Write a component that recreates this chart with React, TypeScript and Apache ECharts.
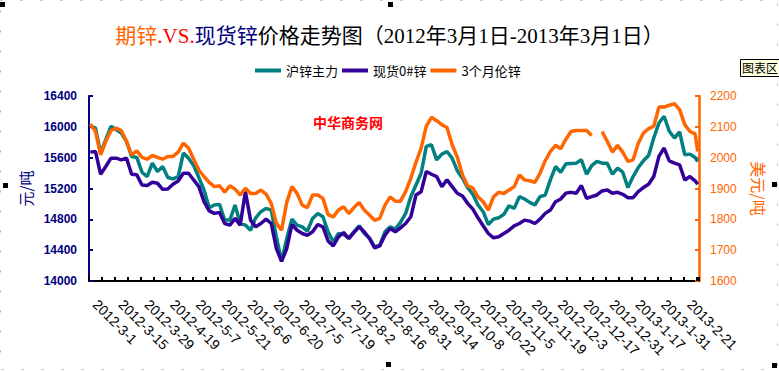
import React, { useEffect, useRef } from 'react';
import * as echarts from 'echarts';

// ---- data ----
const dateLabels = [
  '2012-3-1', '2012-3-15', '2012-3-29', '2012-4-19', '2012-5-7', '2012-5-21',
  '2012-6-6', '2012-6-20', '2012-7-5', '2012-7-19', '2012-8-2', '2012-8-16',
  '2012-8-31', '2012-9-14', '2012-10-8', '2012-10-22', '2012-11-5', '2012-11-19',
  '2012-12-3', '2012-12-17', '2012-12-31', '2013-1-17', '2013-1-31', '2013-2-21',
];
const tradingDayCount = 236; // labels every 10 trading days
const sampleDays = Array.from({ length: 118 }, (_, k) => k * 2).concat([235]);

const seriesNames = ['沪锌主力', '现货0#锌', '3个月伦锌'];

// 沪锌主力 (元/吨)
const shfeMain = [
  16007, 15985, 15659, 15833, 16007, 15964, 15920, 15811, 15616, 15603,
  15411, 15355, 15529, 15420, 15485, 15342, 15325, 15355, 15659, 15594,
  15498, 15342, 15181, 14950, 14986, 14994, 14790, 14790, 14986, 14746,
  14725, 14659, 14820, 14899, 14942, 14920, 14572, 14255, 14551, 14803,
  14725, 14703, 14646, 14812, 14877, 14833, 14638, 14507, 14616, 14603,
  14560, 14638, 14716, 14616, 14560, 14442, 14464, 14638, 14703, 14673,
  14760, 14877, 15094, 15246, 15398, 15746, 15768, 15572, 15646, 15680,
  15594, 15429, 15333, 15212, 15125, 14986, 14899, 14733, 14803, 14820,
  14864, 14977, 14942, 15094, 15064, 15020, 14986, 15094, 15116, 15312,
  15485, 15411, 15520, 15525, 15529, 15572, 15385, 15498, 15551, 15529,
  15529, 15385, 15464, 15411, 15212, 15355, 15472, 15559, 15629, 15855,
  16050, 16137, 15942, 15855, 15933, 15638, 15646, 15603, 15551,
];

// 现货0#锌 (元/吨)
const spotZinc = [
  15672, 15681, 15385, 15485, 15594, 15594, 15572, 15594, 15385, 15377,
  15246, 15238, 15281, 15268, 15190, 15194, 15255, 15298, 15398, 15398,
  15311, 15225, 15029, 14910, 14877, 14890, 14746, 14725, 14812, 14725,
  15159, 14790, 14703, 14746, 14803, 14746, 14420, 14255, 14420, 14733,
  14659, 14616, 14594, 14638, 14733, 14703, 14520, 14455, 14573, 14629,
  14551, 14629, 14703, 14638, 14551, 14429, 14455, 14594, 14681, 14638,
  14690, 14746, 14833, 15116, 15159, 15420, 15385, 15355, 15225, 15311,
  15225, 15138, 15103, 15007, 14933, 14820, 14716, 14616, 14560, 14573,
  14616, 14659, 14716, 14746, 14790, 14777, 14746, 14803, 14877, 14920,
  15029, 15064, 15140, 15150, 15138, 15238, 15073, 15094, 15116, 15168,
  15181, 15138, 15151, 15125, 15081, 15081, 15159, 15212, 15255, 15355,
  15616, 15725, 15559, 15529, 15507, 15311, 15355, 15298, 15255,
];

// 3个月伦锌 (美元/吨)
const lme3m: (number | null)[] = [
  2109, 2085, 2009, 2053, 2088, 2096, 2088, 2053, 2009, 2022,
  2001, 1995, 2007, 2001, 1995, 2004, 2004, 2018, 2047, 2031,
  1995, 1960, 1939, 1920, 1906, 1909, 1888, 1909, 1898, 1879,
  1901, 1884, 1884, 1895, 1882, 1852, 1787, 1765, 1855, 1906,
  1884, 1846, 1838, 1879, 1879, 1868, 1815, 1808, 1830, 1841,
  1819, 1838, 1855, 1830, 1814, 1797, 1803, 1846, 1873, 1859,
  1859, 1890, 1933, 1985, 2031, 2102, 2131, 2120, 2107, 2098,
  2042, 2001, 1944, 1909, 1901, 1873, 1857, 1830, 1873, 1888,
  1884, 1895, 1906, 1944, 1928, 1925, 1920, 1950, 1990, 2020,
  2040, 2029, 2060, 2085, 2088, 2088, 2088, 2072, null, 2085,
  2053, 2018, 2040, 2018, 1988, 1993, 2047, 2080, 2094, 2102,
  2164, 2164, 2170, 2175, 2156, 2107, 2085, 2077, 2020,
];

const leftTicks = { min: 14000, max: 16400, interval: 400 };
const rightTicks = { min: 1600, max: 2200, interval: 100 };

const COLORS = { shfe: '#008080', spot: '#330099', lme: '#FF6600', navy: '#000080' };
const FONT_CJK = '"Noto Sans CJK SC", sans-serif';
const FONT_TITLE = '"Liberation Serif", "Noto Sans CJK SC", serif';
const FONT_AXIS = '"Liberation Sans", Arial, sans-serif';

const categories = Array.from({ length: tradingDayCount }, (_, i) =>
  i % 10 === 0 && dateLabels[i / 10] ? dateLabels[i / 10] : ''
);

const pair = (vals: (number | null)[]) =>
  sampleDays.map((d, k) => [d, vals[k] === null ? '-' : vals[k]]);

const plain = (v: number) => String(v);

export default function App() {
  const ref = useRef<HTMLDivElement>(null);
  useEffect(() => {
    if (!ref.current) return;
    const chart = echarts.init(ref.current, undefined, { renderer: 'svg' });
    const handles = [
      [0, 2], [388, 2], [3, 183], [772, 182], [386, 362], [772, 363],
    ];
    const titleStyle = (color: string) => ({
      color, fontSize: 21, fontWeight: 'normal', fontFamily: FONT_TITLE,
    });
    chart.setOption({
      animation: false,
      backgroundColor: '#ffffff',
      title: {
        left: 'center',
        top: 20,
        text: '{o|期锌}{r|.VS.}{b|现货锌}{k|价格走势图（2012年3月1日-2013年3月1日）}',
        textStyle: {
          fontWeight: 'normal',
          rich: {
            o: titleStyle('#FF6600'),
            r: titleStyle('#FF0000'),
            b: titleStyle('#000080'),
            k: titleStyle('#000000'),
          },
        },
      },
      legend: {
        data: seriesNames,
        left: 250,
        top: 59,
        icon: 'rect',
        itemWidth: 26,
        itemHeight: 4,
        itemGap: 4,
        textStyle: { fontSize: 13, color: '#000', fontFamily: FONT_CJK },
      },
      grid: { left: 89, right: 80, top: 96, bottom: 90, containLabel: false },
      xAxis: {
        type: 'category',
        data: categories,
        boundaryGap: true,
        axisLine: { show: true, lineStyle: { color: '#000', width: 2 } },
        axisTick: { show: true, inside: true, length: 4, interval: 4, lineStyle: { color: '#000', width: 2 } },
        axisLabel: {
          interval: 9,
          rotate: -45,
          margin: 26,
          verticalAlign: 'bottom',
          fontSize: 14,
          color: '#000',
          fontFamily: FONT_AXIS,
        },
        splitLine: { show: false },
      },
      yAxis: [
        {
          type: 'value',
          ...leftTicks,
          name: '元/吨',
          nameLocation: 'middle',
          nameRotate: 90,
          nameGap: 55,
          nameTextStyle: { color: COLORS.navy, fontSize: 15, fontFamily: FONT_CJK },
          axisLine: { show: true, lineStyle: { color: COLORS.navy, width: 2 } },
          axisTick: { show: true, inside: true, length: 4, lineStyle: { color: COLORS.navy, width: 2 } },
          axisLabel: { formatter: plain, color: COLORS.navy, fontWeight: 'bold', fontSize: 12, margin: 12, fontFamily: FONT_AXIS },
          splitLine: { show: false },
        },
        {
          type: 'value',
          ...rightTicks,
          name: '美元/吨',
          nameLocation: 'middle',
          nameRotate: -90,
          nameGap: 52,
          nameTextStyle: { color: COLORS.lme, fontSize: 16, fontFamily: FONT_CJK },
          axisLine: { show: true, lineStyle: { color: COLORS.lme, width: 2.5 } },
          axisTick: { show: true, inside: true, length: 4, lineStyle: { color: COLORS.lme, width: 2 } },
          axisLabel: { formatter: plain, color: COLORS.lme, fontSize: 12, margin: 11, fontFamily: FONT_AXIS },
          splitLine: { show: false },
        },
      ],
      series: [
        {
          name: seriesNames[0], type: 'line', yAxisIndex: 0, data: pair(shfeMain),
          symbol: 'none', showSymbol: false, silent: true,
          lineStyle: { width: 3.5, color: COLORS.shfe }, itemStyle: { color: COLORS.shfe },
        },
        {
          name: seriesNames[1], type: 'line', yAxisIndex: 0, data: pair(spotZinc),
          symbol: 'none', showSymbol: false, silent: true,
          lineStyle: { width: 3.5, color: COLORS.spot }, itemStyle: { color: COLORS.spot },
        },
        {
          name: seriesNames[2], type: 'line', yAxisIndex: 1, data: pair(lme3m),
          symbol: 'none', showSymbol: false, silent: true, connectNulls: false,
          lineStyle: { width: 3.5, color: COLORS.lme }, itemStyle: { color: COLORS.lme },
        },
      ],
      graphic: [
        {
          type: 'rect', silent: true,
          shape: { x: 0.5, y: 0.5, width: 777, height: 369 },
          style: { fill: 'none', stroke: '#b0b0b0', lineWidth: 1, lineDash: [2, 18] },
        },
        ...handles.map(([x, y]) => ({
          type: 'rect', silent: true,
          shape: { x, y, width: 5, height: 5 },
          style: { fill: '#000' },
        })),
        {
          type: 'text', silent: true, x: 313, y: 115,
          style: { text: '中华商务网', fill: '#FF0000', font: `bold 14px ${FONT_CJK}` },
        },
        {
          type: 'rect', silent: true,
          shape: { x: 740.5, y: 59.5, width: 42, height: 17 },
          style: { fill: '#FFFFE1', stroke: '#000', lineWidth: 1 },
        },
        {
          type: 'text', silent: true, x: 742, y: 61,
          style: { text: '图表区', fill: '#000', font: `12px ${FONT_CJK}` },
        },
      ],
    });
    return () => chart.dispose();
  }, []);
  return (
    <div
      ref={ref}
      style={{ position: 'fixed', left: 0, top: 0, width: 779, height: 371, background: '#fff' }}
    />
  );
}
